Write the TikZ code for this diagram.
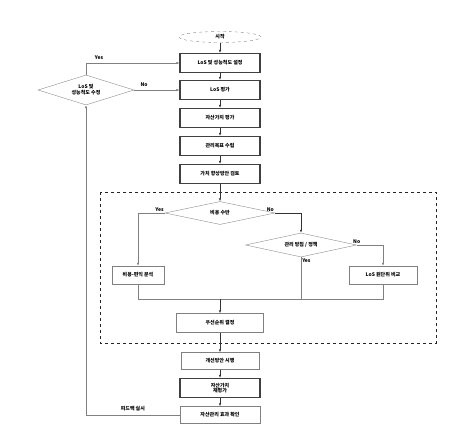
\documentclass[tikz,border=0pt]{standalone}
\usepackage{fontspec}
\newfontfamily\kr{Noto Sans CJK KR}
\usetikzlibrary{shapes.geometric,arrows.meta}
\begin{document}
\begin{tikzpicture}[x=1pt,y=-1pt,>={Latex[length=3pt,width=2.4pt]},font=\kr\bfseries\fontsize{5}{6}\selectfont,
    box/.style={draw=black!75,line width=1.1pt,minimum width=80pt,minimum height=19pt,inner sep=1pt,align=center},
    thinbox/.style={draw=black!50,line width=.5pt,minimum height=18pt,inner sep=1pt},
    dia/.style={diamond,draw=black!45,line width=.4pt,inner sep=0pt,align=center},
    main/.style={->,draw=black!80,line width=.6pt},
    side/.style={->,draw=black!50,line width=.5pt}]
    \useasboundingbox (0,0) rectangle (455,434);
    \def\xm{220}
    \node[ellipse,draw=black!45,dashed,minimum width=82pt,minimum height=11pt,inner sep=0pt] (start) at (\xm,37) {시작};
    \node[box] (set) at (\xm,63) {LoS 및 성능척도 설정};
    \node[box] (los) at (\xm,90) {LoS 평가};
    \node[box] (val) at (\xm,118) {자산가치 평가};
    \node[box] (goal) at (\xm,146) {관리목표 수립};
    \node[box] (rev) at (\xm,174) {가치 향상방안 검토};
    \node[dia,aspect=3.2,minimum width=96pt,minimum height=30pt] (mod) at (86,90) {LoS 및\\성능척도 수정};

    % dashed frame
    \draw[dashed,line width=.6pt,black!85] (100,192) rectangle (436,343);
    \node[dia,aspect=4.8,minimum width=110pt,minimum height=23pt] (cost) at (\xm,213) {비용 수반};
    \node[dia,aspect=4.6,minimum width=111pt,minimum height=24pt] (pol) at (301,245) {관리 방침 / 정책};
    \node[thinbox,minimum width=52pt] (cba) at (138,275) {비용-편익 분석};
    \node[thinbox,minimum width=68pt] (unit) at (383,275) {LoS 원단위 비교};
    \node[thinbox,minimum width=87pt,minimum height=19pt] (prio) at (\xm,323) {우선순위 결정};
    \coordinate (merge) at (\xm,299);

    \node[thinbox,minimum width=78pt,minimum height=17pt] (act) at (\xm,361) {개선방안 시행};
    \node[box,minimum height=19pt,font=\kr\bfseries\fontsize{5}{5.5}\selectfont] (reval) at (\xm,388) {자산가치\\재평가};
    \node[thinbox,minimum width=80pt,minimum height=17pt] (chk) at (\xm,415) {자산관리 효과 확인};

    \draw[main] (start) -- (set);
    \draw[main] (set) -- (los);
    \draw[main] (los) -- (val);
    \draw[main] (val) -- (goal);
    \draw[main] (goal) -- (rev);
    \draw[main] (rev) -- (cost);
    \draw[side] (mod.north) |- (set.west) node[pos=.57,above] {Yes};
    \draw[side] (mod.east) -- (los.west) node[pos=.22,above] {No};
    \draw[side] (cost.west) -| (cba.north) node[pos=0,above left,inner sep=1pt] {Yes};
    \draw[main] (cost.east) -| (pol.north) node[pos=0,above left,inner sep=1pt] {No};
    \draw[side] (pol.east) -| (unit.north) node[pos=0,above,inner sep=1.5pt] {No};
    \draw[draw=black!50,line width=.5pt] (cba.south) |- (merge);
    \draw[draw=black!50,line width=.5pt] (unit.south) |- (merge);
    \draw[draw=black!50,line width=.5pt] (pol.south) node[below right,inner sep=1pt] {Yes} |- (merge);
    \draw[main] (merge) -- (prio);
    \draw[main] (prio) -- (act);
    \draw[main] (act) -- (reval);
    \draw[main] (reval) -- (chk);
    \draw[side] (chk.west) -| (mod.south) node[pos=.25,above] {피드백 실시};
\end{tikzpicture}
\end{document}
